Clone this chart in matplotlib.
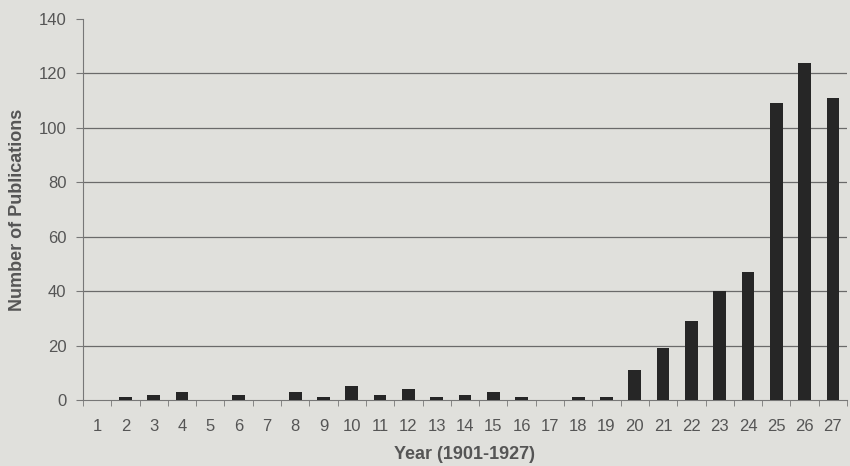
import matplotlib.pyplot as plt
import numpy as np

plt.rcParams['font.family'] = ['Liberation Sans', 'DejaVu Sans']

# Publications per year, 1901-1927 (year shown as 1..27)
years = list(range(1, 28))
counts = [0, 1, 2, 3, 0, 2, 0, 3, 1, 5, 2, 4, 1, 2, 3, 1, 0, 1, 1, 11,
          19, 29, 40, 47, 109, 124, 111]

bg = '#e0e0dc'
text_col = '#555555'

fig = plt.figure(figsize=(8.5, 4.66), dpi=100, facecolor=bg)
ax = fig.add_axes([0.0976, 0.1416, 0.8989, 0.8176], facecolor=bg)

ax.bar(years, counts, width=0.45, color='#262626', zorder=3)

ax.set_xlim(0.5, 27.5)
ax.set_ylim(0, 140)
ax.set_yticks(range(0, 141, 20))
for y in range(20, 121, 20):
    ax.axhline(y, color='#6a6a6a', lw=0.9, zorder=1)

ax.set_xticks(years)
ax.set_xticklabels([str(y) for y in years])
ax.set_xticks(np.arange(0.5, 28, 1), minor=True)
ax.tick_params(axis='x', which='major', length=0, pad=14, labelsize=12, colors=text_col)
ax.tick_params(axis='x', which='minor', length=4, direction='out', color='#777777')
ax.tick_params(axis='y', length=5, direction='out', color='#777777', labelsize=12,
               labelcolor=text_col, pad=7)

for s in ['top', 'right']:
    ax.spines[s].set_visible(False)
ax.spines['left'].set_color('#777777')
ax.spines['bottom'].set_color('#777777')
ax.spines['left'].set_linewidth(0.8)
ax.spines['bottom'].set_linewidth(0.8)

ax.set_xlabel('Year (1901-1927)', fontsize=13, fontweight='bold', color=text_col, labelpad=8)
ax.set_ylabel('Number of Publications', fontsize=13, fontweight='bold', color=text_col, labelpad=9)

fig.savefig('out.png', dpi=100, facecolor=bg)
